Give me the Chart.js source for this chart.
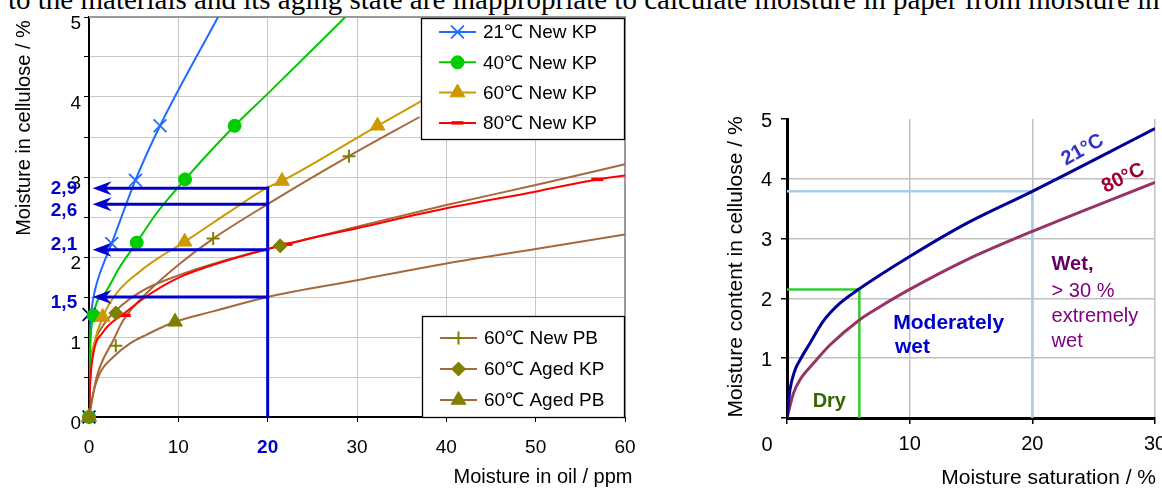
<!DOCTYPE html>
<html>
<head>
<meta charset="utf-8">
<script src="https://cdn.jsdelivr.net/npm/chart.js@4.4.1/dist/chart.umd.min.js"></script>
<style>
  html, body { margin:0; padding:0; background:#fff; }
  body { width:1162px; height:488px; overflow:hidden; position:relative; }
  #topline { position:absolute; left:8px; top:-15px; font-family:"Liberation Serif","Times New Roman",serif; font-size:29px; line-height:29px; white-space:nowrap; color:#000; }
  #c1 { position:absolute; left:0; top:0; }
  #c2 { position:absolute; left:700px; top:0; }
</style>
</head>
<body>
<div id="topline">to the materials and its aging state are inappropriate to calculate moisture in paper from moisture in</div>
<canvas id="c1" width="660" height="488"></canvas>
<canvas id="c2" width="490" height="488"></canvas>
<script>
// ================= LEFT CHART DATA: moisture in oil (ppm) -> moisture in cellulose (%) =================
const kp21CurveX = [0, 0.1, 0.3, 0.7, 1.3, 2.54, 5.2, 7.95, 14.45];
const kp21CurveY = [0, 1.0, 1.35, 1.6, 1.82, 2.17, 2.96, 3.64, 5.0];
const kp21MarkX  = [0, 0, 2.54, 5.2, 7.95];
const kp21MarkY  = [0, 1.28, 2.17, 2.96, 3.64];

const kp40CurveX = [0, 0.1, 0.5, 1.8, 3.47, 5.34, 7.58, 10.75, 16.3, 19.9, 28.7];
const kp40CurveY = [0, 0.71, 1.27, 1.55, 1.88, 2.18, 2.55, 2.97, 3.64, 4.03, 5.0];
const kp40MarkX  = [0, 0.5, 5.34, 10.75, 16.3];
const kp40MarkY  = [0, 1.27, 2.18, 2.97, 3.64];

const kp60CurveX = [0, 0.1, 0.48, 1.53, 3.1, 5.7, 7.95, 10.7, 15.8, 20, 21.6, 32.3, 38];
const kp60CurveY = [0, 0.55, 0.88, 1.25, 1.55, 1.82, 2.0, 2.19, 2.57, 2.87, 2.95, 3.64, 4.0];
const kp60MarkX  = [0, 1.53, 10.7, 21.6, 32.3];
const kp60MarkY  = [0, 1.25, 2.19, 2.95, 3.64];

const kp80CurveX = [0, 0.15, 0.5, 1.5, 4.0, 7, 10, 15, 22.1, 30, 40, 50.1, 56.9, 60];
const kp80CurveY = [0, 0.45, 0.8, 1.05, 1.3, 1.55, 1.74, 1.94, 2.16, 2.36, 2.61, 2.82, 2.97, 3.02];
const kp80MarkX  = [0, 4.0, 22.1, 56.9];
const kp80MarkY  = [0, 1.27, 2.16, 2.97];

const pbNewCurveX = [0, 0.86, 2.72, 3.84, 6.46, 10.2, 13.9, 20, 29.1, 37];
const pbNewCurveY = [0, 0.5, 0.96, 1.21, 1.55, 1.92, 2.23, 2.66, 3.26, 3.75];
const pbNewMarkX  = [0, 3.0, 13.9, 29.1];
const pbNewMarkY  = [0, 0.89, 2.23, 3.26];

const kpAgedCurveX = [0, 0.15, 0.6, 1.5, 3.0, 6, 10, 15, 21.4, 30, 40, 50, 60];
const kpAgedCurveY = [0, 0.5, 0.9, 1.13, 1.33, 1.58, 1.77, 1.95, 2.14, 2.38, 2.65, 2.9, 3.16];
const kpAgedMarkX  = [0, 3.0, 21.4];
const kpAgedMarkY  = [0, 1.30, 2.14];

const pbAgedCurveX = [0, 0.48, 1.23, 2.72, 4.6, 6.46, 9.63, 13.9, 20, 30, 40, 50, 60];
const pbAgedCurveY = [0, 0.3, 0.55, 0.75, 0.92, 1.03, 1.19, 1.32, 1.5, 1.71, 1.92, 2.1, 2.28];
const pbAgedMarkX  = [0, 9.63];
const pbAgedMarkY  = [0, 1.19];

const legendTopLabels = ['21\u2103 New KP', '40\u2103 New KP', '60\u2103 New KP', '80\u2103 New KP'];
const legendBottomLabels = ['60\u2103 New PB', '60\u2103 Aged KP', '60\u2103 Aged PB'];

// read-off example at 20 ppm
const readOilPpm = 20;
const readCellulose = [2.86, 2.66, 2.09, 1.50];
const readLabels = ['2,9', '2,6', '2,1', '1,5'];
const readLabelAt = [2.86, 2.59, 2.16, 1.44];
const arrowTipPpm = 0.4;

// ================= RIGHT CHART DATA: moisture saturation (%) -> moisture content in cellulose (%) =================
const sat21X = [0, 0.24, 0.65, 1.06, 1.87, 2.96, 4.32, 5.9, 10, 14.6, 20, 30];
const sat21Y = [0, 0.47, 0.80, 0.97, 1.25, 1.62, 1.92, 2.16, 2.70, 3.25, 3.79, 4.84];
const sat80X = [0, 0.52, 1.06, 2.14, 3.5, 5.9, 7.58, 10, 14.6, 20, 30];
const sat80Y = [0, 0.41, 0.64, 0.91, 1.22, 1.64, 1.86, 2.15, 2.64, 3.12, 3.94];
const wetLimit = [20, 3.79];   // saturation %, cellulose %
const dryLimit = [5.9, 2.15];

// ================= helpers =================
const FONT = '"Liberation Sans", Arial, Helvetica, sans-serif';
Chart.defaults.font.family = FONT;
Chart.defaults.color = '#000';
const P = (xs, ys) => xs.map((x, i) => ({x: x, y: ys[i]}));

function drawMarker(ctx, st, x, y) {
  ctx.save();
  ctx.fillStyle = st.mfill; ctx.strokeStyle = st.mstroke; ctx.lineWidth = st.bw;
  if (Chart.helpers && Chart.helpers.drawPoint) {
    Chart.helpers.drawPoint(ctx, {pointStyle: st.style, radius: st.r, borderWidth: st.bw, rotation: 0}, x, y);
  } else {
    ctx.beginPath(); ctx.arc(x, y, st.r, 0, Math.PI * 2); ctx.fill();
  }
  ctx.restore();
}

const BROWN = '#A5693C', OLIVE = '#808000';
const series1 = [
  {label: legendTopLabels[0], cx: kp21CurveX, cy: kp21CurveY, mx: kp21MarkX, my: kp21MarkY, line: '#1F6CFF', mfill: '#1F6CFF', mstroke: '#1F6CFF', style: 'crossRot', r: 9, bw: 1.8, z: 6, cz: 22,
   pointColors: ['#000080', '#000080', '#1F6CFF', '#1F6CFF', '#1F6CFF']},
  {label: legendTopLabels[1], cx: kp40CurveX, cy: kp40CurveY, mx: kp40MarkX, my: kp40MarkY, line: '#00C800', mfill: '#00CC00', mstroke: '#00CC00', style: 'circle', r: 6.5, bw: 1, z: 5, cz: 21},
  {label: legendTopLabels[2], cx: kp60CurveX, cy: kp60CurveY, mx: kp60MarkX, my: kp60MarkY, line: '#CC9900', mfill: '#CC9900', mstroke: '#CC9900', style: 'triangle', r: 8.5, bw: 1, z: 4, cz: 23},
  {label: legendTopLabels[3], cx: kp80CurveX, cy: kp80CurveY, mx: kp80MarkX, my: kp80MarkY, line: '#FF0000', mfill: '#FF0000', mstroke: '#FF0000', style: 'line', r: 6, bw: 3.5, z: 3, cz: 20},
  {label: legendBottomLabels[0], cx: pbNewCurveX, cy: pbNewCurveY, mx: pbNewMarkX, my: pbNewMarkY, line: BROWN, mfill: OLIVE, mstroke: OLIVE, style: 'cross', r: 6.5, bw: 2, z: 2, cz: 24},
  {label: legendBottomLabels[1], cx: kpAgedCurveX, cy: kpAgedCurveY, mx: kpAgedMarkX, my: kpAgedMarkY, line: BROWN, mfill: OLIVE, mstroke: OLIVE, style: 'rectRot', r: 7, bw: 1, z: 1, cz: 25},
  {label: legendBottomLabels[2], cx: pbAgedCurveX, cy: pbAgedCurveY, mx: pbAgedMarkX, my: pbAgedMarkY, line: BROWN, mfill: OLIVE, mstroke: OLIVE, style: 'triangle', r: 8.5, bw: 1, z: 0, cz: 26}
];

const datasets1 = [];
series1.forEach(s => {
  datasets1.push({
    data: P(s.cx, s.cy), borderColor: s.line, borderWidth: 2, pointRadius: 0, pointHoverRadius: 0,
    cubicInterpolationMode: 'monotone', fill: false, order: s.cz
  });
  datasets1.push({
    data: P(s.mx, s.my), showLine: false, pointStyle: s.style, pointRadius: s.r, pointHoverRadius: s.r,
    pointBackgroundColor: s.pointColors || s.mfill, pointBorderColor: s.pointColors || s.mstroke,
    pointBorderWidth: s.bw, clip: false, order: s.z
  });
});

function drawLegend(ctx, box, items) {
  ctx.save();
  ctx.fillStyle = '#fff';
  ctx.fillRect(box.x, box.y, box.w, box.h);
  ctx.strokeStyle = '#000'; ctx.lineWidth = 1.3;
  ctx.strokeRect(box.x + 0.5, box.y + 0.5, box.w, box.h);
  items.forEach((st, i) => {
    const yy = box.y + box.first + i * box.step;
    ctx.strokeStyle = st.line; ctx.lineWidth = 2;
    ctx.beginPath(); ctx.moveTo(box.x + 18, yy); ctx.lineTo(box.x + 55, yy); ctx.stroke();
    drawMarker(ctx, st, box.x + 36.5, yy);
    ctx.fillStyle = '#000'; ctx.font = '19px ' + FONT;
    ctx.textAlign = 'left'; ctx.textBaseline = 'middle';
    ctx.fillText(st.label, box.x + 62, yy + 1);
  });
  ctx.restore();
}

const deco1 = {
  id: 'deco1',
  beforeDatasetsDraw(chart) {
    const {ctx, chartArea: a} = chart;
    ctx.save();
    ctx.strokeStyle = '#9a9a9a'; ctx.lineWidth = 2;
    ctx.beginPath(); ctx.moveTo(a.left, a.top); ctx.lineTo(a.right, a.top); ctx.lineTo(a.right, a.bottom); ctx.stroke();
    ctx.restore();
  },
  afterDatasetsDraw(chart) {
    const {ctx} = chart; const x = chart.scales.x, y = chart.scales.y;
    ctx.save();
    ctx.strokeStyle = '#0000CC'; ctx.fillStyle = '#0000CC'; ctx.lineWidth = 3;
    const xr = x.getPixelForValue(readOilPpm);
    const tip = x.getPixelForValue(arrowTipPpm);
    const topY = y.getPixelForValue(Math.max.apply(null, readCellulose));
    ctx.beginPath(); ctx.moveTo(xr, y.getPixelForValue(0)); ctx.lineTo(xr, topY - 1.5); ctx.stroke();
    readCellulose.forEach(v => {
      const py = y.getPixelForValue(v);
      ctx.beginPath(); ctx.moveTo(xr + 1.5, py); ctx.lineTo(tip + 12, py); ctx.stroke();
      ctx.beginPath();
      ctx.moveTo(tip, py); ctx.lineTo(tip + 19, py - 7); ctx.lineTo(tip + 13, py); ctx.lineTo(tip + 19, py + 7); ctx.closePath();
      ctx.fill();
    });
    ctx.font = 'bold 19px ' + FONT; ctx.textAlign = 'center'; ctx.textBaseline = 'middle';
    readLabels.forEach((t, i) => ctx.fillText(t, 64, y.getPixelForValue(readLabelAt[i]) + 1));
    ctx.restore();
  },
  afterDraw(chart) {
    const {ctx} = chart;
    drawLegend(ctx, {x: 421, y: 18, w: 203, h: 121, first: 14, step: 30.3}, series1.slice(0, 4));
    drawLegend(ctx, {x: 422, y: 316, w: 202, h: 101, first: 22, step: 31}, series1.slice(4));
    ctx.save();
    ctx.fillStyle = '#000'; ctx.font = '20px ' + FONT;
    ctx.textAlign = 'center'; ctx.textBaseline = 'alphabetic';
    ctx.fillText('Moisture in oil / ppm', 543, 483);
    ctx.translate(30, 128); ctx.rotate(-Math.PI / 2);
    ctx.fillText('Moisture in cellulose / %', 0, 0);
    ctx.restore();
  }
};

new Chart(document.getElementById('c1'), {
  type: 'line',
  data: {datasets: datasets1},
  options: {
    responsive: false, animation: false, devicePixelRatio: 1,
    layout: {padding: {left: 0, right: 35, top: 17, bottom: 0}},
    plugins: {legend: {display: false}, tooltip: {enabled: false}},
    events: [],
    scales: {
      x: {
        type: 'linear', min: 0, max: 60,
        ticks: {
          stepSize: 10, autoSkip: false, maxRotation: 0, padding: 14,
          color: c => (c.tick && c.tick.value === readOilPpm) ? '#0000CC' : '#000',
          font: c => (c.tick && c.tick.value === readOilPpm) ? {family: FONT, size: 19, weight: 'bold'} : {family: FONT, size: 19}
        },
        grid: {color: '#c8c8c8', lineWidth: 1, tickLength: 5, tickColor: '#000'},
        border: {color: '#000', width: 2},
        afterFit: s => { s.height = 71; }
      },
      y: {
        type: 'linear', min: 0, max: 5,
        ticks: {stepSize: 0.5, autoSkip: false, callback: v => Number.isInteger(v) ? String(v) : '', font: {size: 19}, color: '#000', labelOffset: 7, padding: 3},
        grid: {color: '#c8c8c8', lineWidth: 1, tickLength: 5, tickColor: '#000'},
        border: {color: '#000', width: 2},
        afterFit: s => { s.width = 89; }
      }
    }
  },
  plugins: [deco1]
});

// ================= RIGHT CHART =================
const notes2 = [
  {t: '21\u00B0C', x: 24.1, y: 4.48, rot: -29, font: 'bold 20px', color: '#3333CC', align: 'center', base: 'middle'},
  {t: '80\u00B0C', x: 27.4, y: 4.01, rot: -26, font: 'bold 20px', color: '#990033', align: 'center', base: 'middle'},
  {t: 'Wet,', x: 21.57, y: 2.47, font: 'bold 20px', color: '#660066'},
  {t: '> 30 %', x: 21.57, y: 2.03, font: '20px', color: '#800080'},
  {t: 'extremely', x: 21.57, y: 1.60, font: '20px', color: '#800080'},
  {t: 'wet', x: 21.57, y: 1.19, font: '20px', color: '#800080'},
  {t: 'Moderately', x: 8.66, y: 1.48, font: 'bold 21px', color: '#0000CC'},
  {t: 'wet', x: 8.8, y: 1.08, font: 'bold 21px', color: '#0000CC'},
  {t: 'Dry', x: 2.09, y: 0.18, font: 'bold 20px', color: '#336600'}
];

const deco2 = {
  id: 'deco2',
  beforeDatasetsDraw(chart) {
    const {ctx} = chart; const x = chart.scales.x, y = chart.scales.y;
    ctx.save();
    ctx.lineWidth = 2.5;
    ctx.strokeStyle = '#A8CCEE';
    ctx.beginPath();
    ctx.moveTo(x.getPixelForValue(0), y.getPixelForValue(wetLimit[1]));
    ctx.lineTo(x.getPixelForValue(wetLimit[0]), y.getPixelForValue(wetLimit[1]));
    ctx.lineTo(x.getPixelForValue(wetLimit[0]), y.getPixelForValue(0));
    ctx.stroke();
    ctx.strokeStyle = '#33CC33';
    ctx.beginPath();
    ctx.moveTo(x.getPixelForValue(0), y.getPixelForValue(dryLimit[1]));
    ctx.lineTo(x.getPixelForValue(dryLimit[0]), y.getPixelForValue(dryLimit[1]));
    ctx.lineTo(x.getPixelForValue(dryLimit[0]), y.getPixelForValue(0));
    ctx.stroke();
    ctx.restore();
  },
  afterDatasetsDraw(chart) {
    const {ctx} = chart; const x = chart.scales.x, y = chart.scales.y;
    notes2.forEach(n => {
      ctx.save();
      ctx.fillStyle = n.color; ctx.font = n.font + ' ' + FONT;
      ctx.textAlign = n.align || 'left'; ctx.textBaseline = n.base || 'alphabetic';
      ctx.translate(x.getPixelForValue(n.x), y.getPixelForValue(n.y));
      if (n.rot) ctx.rotate(n.rot * Math.PI / 180);
      ctx.fillText(n.t, 0, 0);
      ctx.restore();
    });
  },
  afterDraw(chart) {
    const {ctx} = chart;
    ctx.save();
    ctx.fillStyle = '#000'; ctx.font = '20px ' + FONT;
    ctx.textAlign = 'center'; ctx.textBaseline = 'middle';
    ctx.fillText('0', 67, 445);
    ctx.font = '21px ' + FONT; ctx.textAlign = 'right'; ctx.textBaseline = 'alphabetic';
    ctx.fillText('Moisture saturation / %', 456, 484);
    ctx.textAlign = 'center';
    ctx.translate(42, 267); ctx.rotate(-Math.PI / 2);
    ctx.fillText('Moisture content in cellulose / %', 0, 0);
    ctx.restore();
  }
};

new Chart(document.getElementById('c2'), {
  type: 'line',
  data: {datasets: [
    {data: P(sat21X, sat21Y), borderColor: '#000099', borderWidth: 3, pointRadius: 0, cubicInterpolationMode: 'monotone', fill: false},
    {data: P(sat80X, sat80Y), borderColor: '#993366', borderWidth: 3, pointRadius: 0, cubicInterpolationMode: 'monotone', fill: false}
  ]},
  options: {
    responsive: false, animation: false, devicePixelRatio: 1,
    layout: {padding: {left: 0, right: 35, top: 119, bottom: 0}},
    plugins: {legend: {display: false}, tooltip: {enabled: false}},
    events: [],
    scales: {
      x: {
        type: 'linear', min: 0, max: 30,
        ticks: {stepSize: 10, autoSkip: false, maxRotation: 0, padding: 8, font: {size: 20}, color: '#000', callback: v => v === 0 ? '' : String(v)},
        grid: {color: '#c0c0c0', lineWidth: 1.5, tickLength: 6, tickColor: '#000'},
        border: {color: '#000', width: 3},
        afterFit: s => { s.height = 70; }
      },
      y: {
        type: 'linear', min: 0, max: 5,
        ticks: {stepSize: 1, autoSkip: false, padding: 9, font: {size: 20}, color: '#000', labelOffset: 2, callback: v => v === 0 ? '' : String(v)},
        grid: {color: c => (c.tick && c.tick.value === 5) ? 'rgba(0,0,0,0)' : '#c0c0c0', lineWidth: 1.5, tickLength: 6, tickColor: '#000'},
        border: {color: '#000', width: 3},
        afterFit: s => { s.width = 87; }
      }
    }
  },
  plugins: [deco2]
});
</script>
</body>
</html>
